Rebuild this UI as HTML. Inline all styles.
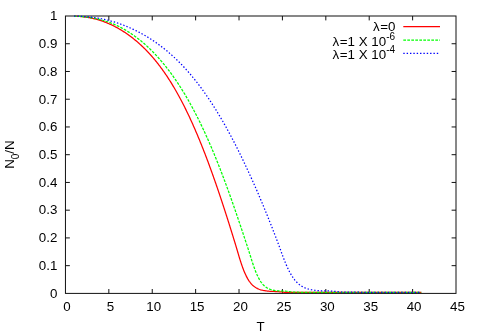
<!DOCTYPE html>
<html><head><meta charset="utf-8"><title>N0/N vs T</title>
<style>html,body{margin:0;padding:0;background:#fff;}body{width:480px;height:336px;overflow:hidden;}svg{display:block;will-change:transform;}text{font-family:"Liberation Sans",sans-serif;fill:#000;}</style></head><body>
<svg width="480" height="336" viewBox="0 0 480 336">
<rect width="480" height="336" fill="#fff"/>
<g stroke="#111" stroke-width="1" fill="none">
<rect x="65.45" y="16.0" width="390.55" height="277.40"/>
<path d="M108.84,293.4v-4.4M108.84,16.0v4.4M152.24,293.4v-4.4M152.24,16.0v4.4M195.63,293.4v-4.4M195.63,16.0v4.4M239.03,293.4v-4.4M239.03,16.0v4.4M282.42,293.4v-4.4M282.42,16.0v4.4M325.82,293.4v-4.4M325.82,16.0v4.4M369.21,293.4v-4.4M369.21,16.0v4.4M412.61,293.4v-4.4M412.61,16.0v4.4M65.45,265.66h4.4M456.0,265.66h-4.4M65.45,237.92h4.4M456.0,237.92h-4.4M65.45,210.18h4.4M456.0,210.18h-4.4M65.45,182.44h4.4M456.0,182.44h-4.4M65.45,154.70h4.4M456.0,154.70h-4.4M65.45,126.96h4.4M456.0,126.96h-4.4M65.45,99.22h4.4M456.0,99.22h-4.4M65.45,71.48h4.4M456.0,71.48h-4.4M65.45,43.74h4.4M456.0,43.74h-4.4"/>
</g>
<path d="M74.10,16.18 L74.95,16.21 L75.81,16.24 L76.66,16.28 L77.52,16.32 L78.37,16.37 L79.22,16.43 L80.08,16.50 L80.93,16.57 L81.78,16.64 L82.63,16.73 L83.48,16.82 L84.33,16.93 L85.18,17.04 L86.03,17.15 L86.87,17.28 L87.72,17.41 L88.56,17.55 L89.40,17.70 L90.24,17.86 L91.08,18.03 L91.92,18.20 L92.75,18.39 L93.59,18.58 L94.42,18.78 L95.25,18.99 L96.07,19.20 L96.90,19.43 L97.72,19.66 L98.54,19.90 L99.36,20.15 L100.17,20.41 L100.99,20.67 L101.80,20.95 L102.61,21.23 L103.41,21.52 L104.21,21.81 L105.01,22.11 L105.81,22.43 L106.60,22.74 L107.39,23.07 L108.18,23.40 L108.97,23.74 L109.75,24.09 L110.53,24.44 L111.30,24.80 L112.08,25.16 L112.85,25.54 L113.61,25.92 L114.38,26.30 L115.14,26.69 L115.89,27.09 L116.65,27.50 L117.40,27.91 L118.14,28.32 L118.89,28.75 L119.63,29.18 L120.36,29.61 L121.10,30.05 L121.83,30.50 L122.55,30.95 L123.28,31.40 L123.99,31.87 L124.71,32.33 L125.42,32.81 L126.13,33.28 L126.84,33.77 L127.54,34.26 L128.24,34.75 L128.93,35.25 L129.62,35.75 L130.31,36.26 L131.00,36.77 L131.68,37.29 L132.35,37.81 L133.03,38.34 L133.70,38.87 L134.36,39.41 L135.03,39.95 L135.69,40.49 L136.34,41.04 L136.99,41.59 L137.64,42.15 L138.29,42.71 L138.93,43.28 L139.56,43.85 L140.20,44.42 L140.83,45.00 L141.45,45.58 L142.08,46.17 L142.70,46.76 L143.31,47.35 L143.92,47.95 L144.53,48.55 L145.14,49.15 L145.74,49.76 L146.34,50.37 L146.93,50.99 L147.52,51.61 L148.11,52.23 L148.69,52.85 L149.27,53.48 L149.85,54.11 L150.43,54.75 L151.00,55.38 L151.56,56.02 L152.13,56.67 L152.69,57.31 L153.24,57.96 L153.79,58.61 L154.34,59.27 L154.89,59.93 L155.43,60.59 L155.97,61.25 L156.51,61.92 L157.05,62.58 L157.58,63.25 L158.10,63.93 L158.63,64.60 L159.15,65.28 L159.67,65.96 L160.18,66.64 L160.69,67.33 L161.20,68.02 L161.71,68.71 L162.21,69.40 L162.71,70.09 L163.21,70.79 L163.70,71.49 L164.19,72.19 L164.68,72.89 L165.17,73.59 L165.65,74.30 L166.13,75.01 L166.61,75.71 L167.08,76.43 L167.55,77.14 L168.02,77.85 L168.49,78.57 L168.95,79.29 L169.41,80.01 L169.87,80.73 L170.33,81.45 L170.78,82.18 L171.23,82.91 L171.68,83.63 L172.13,84.36 L172.57,85.09 L173.01,85.83 L173.45,86.56 L173.89,87.30 L174.32,88.03 L174.75,88.77 L175.18,89.51 L175.61,90.25 L176.04,90.99 L176.46,91.73 L176.88,92.48 L177.30,93.22 L177.72,93.97 L178.13,94.72 L178.55,95.47 L178.96,96.22 L179.36,96.97 L179.77,97.72 L180.18,98.47 L180.58,99.23 L180.98,99.98 L181.38,100.74 L181.77,101.50 L182.17,102.26 L182.56,103.02 L182.95,103.78 L183.34,104.54 L183.73,105.30 L184.12,106.06 L184.50,106.83 L184.88,107.59 L185.26,108.36 L185.64,109.12 L186.02,109.89 L186.40,110.66 L186.77,111.43 L187.14,112.20 L187.51,112.97 L187.88,113.74 L188.25,114.51 L188.62,115.28 L188.98,116.06 L189.35,116.83 L189.71,117.61 L190.07,118.38 L190.43,119.16 L190.78,119.94 L191.14,120.71 L191.49,121.49 L191.85,122.27 L192.20,123.05 L192.55,123.83 L192.90,124.61 L193.24,125.39 L193.59,126.17 L193.94,126.96 L194.28,127.74 L194.62,128.52 L194.96,129.31 L195.30,130.09 L195.64,130.88 L195.98,131.66 L196.31,132.45 L196.65,133.24 L196.98,134.02 L197.31,134.81 L197.65,135.60 L197.98,136.39 L198.31,137.18 L198.63,137.97 L198.96,138.76 L199.29,139.55 L199.61,140.34 L199.93,141.13 L200.26,141.92 L200.58,142.71 L200.90,143.51 L201.22,144.30 L201.54,145.09 L201.85,145.89 L202.17,146.68 L202.49,147.48 L202.80,148.27 L203.11,149.07 L203.43,149.86 L203.74,150.66 L204.05,151.46 L204.36,152.25 L204.67,153.05 L204.98,153.85 L205.28,154.65 L205.59,155.45 L205.89,156.24 L206.20,157.04 L206.50,157.84 L206.81,158.64 L207.11,159.44 L207.41,160.24 L207.71,161.04 L208.01,161.84 L208.31,162.65 L208.60,163.45 L208.90,164.25 L209.20,165.05 L209.49,165.85 L209.79,166.66 L210.08,167.46 L210.38,168.26 L210.67,169.07 L210.96,169.87 L211.25,170.67 L211.54,171.48 L211.83,172.28 L212.12,173.09 L212.41,173.89 L212.70,174.70 L212.98,175.50 L213.27,176.31 L213.55,177.12 L213.84,177.92 L214.12,178.73 L214.41,179.53 L214.69,180.34 L214.97,181.15 L215.25,181.96 L215.54,182.76 L215.82,183.57 L216.10,184.38 L216.38,185.19 L216.65,186.00 L216.93,186.80 L217.21,187.61 L217.49,188.42 L217.76,189.23 L218.04,190.04 L218.32,190.85 L218.59,191.66 L218.86,192.47 L219.14,193.28 L219.41,194.09 L219.68,194.90 L219.96,195.71 L220.23,196.52 L220.50,197.33 L220.77,198.14 L221.04,198.96 L221.31,199.77 L221.58,200.58 L221.85,201.39 L222.12,202.20 L222.38,203.02 L222.65,203.83 L222.92,204.64 L223.18,205.45 L223.45,206.27 L223.71,207.08 L223.98,207.89 L224.24,208.70 L224.51,209.52 L224.77,210.33 L225.04,211.14 L225.30,211.96 L225.56,212.77 L225.82,213.59 L226.08,214.40 L226.35,215.21 L226.61,216.03 L226.87,216.84 L227.13,217.66 L227.39,218.47 L227.65,219.29 L227.90,220.10 L228.16,220.92 L228.42,221.73 L228.68,222.55 L228.94,223.36 L229.19,224.18 L229.45,224.99 L229.71,225.81 L229.96,226.63 L230.22,227.44 L230.47,228.26 L230.73,229.07 L230.98,229.89 L231.24,230.71 L231.49,231.52 L231.75,232.34 L232.00,233.16 L232.25,233.97 L232.50,234.79 L232.76,235.61 L233.01,236.42 L233.26,237.24 L233.51,238.06 L233.76,238.88 L234.02,239.69 L234.27,240.51 L234.52,241.33 L234.77,242.15 L235.02,242.96 L235.27,243.78 L235.52,244.60 L235.77,245.42 L236.01,246.24 L236.26,247.06 L236.50,247.88 L236.75,248.70 L236.99,249.52 L237.23,250.34 L237.47,251.16 L237.71,251.98 L237.95,252.80 L238.19,253.62 L238.43,254.44 L238.67,255.26 L238.92,256.08 L239.16,256.90 L239.41,257.72 L239.66,258.53 L239.91,259.35 L240.17,260.17 L240.43,260.98 L240.69,261.80 L240.96,262.61 L241.23,263.42 L241.50,264.23 L241.78,265.04 L242.06,265.85 L242.34,266.65 L242.64,267.46 L242.93,268.26 L243.23,269.06 L243.54,269.86 L243.86,270.65 L244.18,271.44 L244.51,272.23 L244.85,273.02 L245.19,273.80 L245.55,274.58 L245.91,275.35 L246.29,276.12 L246.68,276.88 L247.08,277.64 L247.49,278.38 L247.92,279.12 L248.37,279.85 L248.83,280.57 L249.31,281.28 L249.81,281.98 L250.32,282.66 L250.86,283.32 L251.43,283.96 L252.01,284.59 L252.62,285.19 L253.25,285.76 L253.91,286.31 L254.59,286.83 L255.30,287.31 L256.02,287.76 L256.77,288.18 L257.53,288.57 L258.31,288.92 L259.10,289.24 L259.91,289.53 L260.72,289.79 L261.54,290.02 L262.37,290.23 L263.21,290.41 L264.05,290.57 L264.89,290.71 L265.74,290.84 L266.59,290.95 L267.44,291.04 L268.29,291.12 L269.14,291.20 L269.99,291.26 L270.85,291.32 L271.70,291.37 L272.55,291.41 L273.41,291.45 L274.26,291.49 L275.12,291.53 L275.97,291.57 L276.82,291.61 L277.68,291.66 L278.53,291.71 L279.38,291.77 L280.24,291.83 L281.09,291.91 L281.94,291.99 L282.79,292.09 L283.64,292.19 L284.49,292.30 L285.34,292.37 L286.19,292.37 L287.05,292.37 L287.90,292.37 L288.76,292.37 L289.61,292.37 L290.47,292.37 L291.32,292.37 L292.18,292.37 L293.03,292.37 L293.89,292.37 L294.74,292.37 L295.60,292.37 L296.45,292.37 L297.31,292.37 L298.16,292.37 L299.02,292.37 L299.87,292.37 L300.73,292.37 L301.58,292.37 L302.44,292.37 L303.29,292.37 L304.15,292.37 L305.00,292.37 L305.86,292.37 L306.72,292.37 L307.57,292.37 L308.43,292.37 L309.28,292.37 L310.14,292.37 L310.99,292.37 L311.85,292.38 L312.70,292.38 L313.56,292.38 L314.41,292.38 L315.27,292.38 L316.12,292.38 L316.98,292.38 L317.83,292.38 L318.69,292.39 L319.54,292.39 L320.40,292.39 L321.25,292.39 L322.11,292.39 L322.96,292.39 L323.82,292.39 L324.67,292.39 L325.53,292.40 L326.38,292.40 L327.24,292.40 L328.09,292.40 L328.95,292.40 L329.80,292.40 L330.66,292.40 L331.51,292.40 L332.37,292.40 L333.22,292.40 L334.08,292.40 L334.93,292.40 L335.79,292.40 L336.64,292.41 L337.50,292.41 L338.35,292.41 L339.21,292.41 L340.06,292.41 L340.92,292.41 L341.77,292.41 L342.63,292.41 L343.48,292.41 L344.34,292.41 L345.20,292.41 L346.05,292.41 L346.91,292.41 L347.76,292.41 L348.62,292.41 L349.47,292.41 L350.33,292.42 L351.18,292.42 L352.04,292.42 L352.89,292.42 L353.75,292.42 L354.60,292.42 L355.46,292.42 L356.31,292.42 L357.17,292.42 L358.02,292.42 L358.88,292.42 L359.73,292.42 L360.59,292.42 L361.44,292.42 L362.30,292.42 L363.15,292.42 L364.01,292.42 L364.86,292.43 L365.72,292.43 L366.57,292.43 L367.43,292.43 L368.28,292.43 L369.14,292.43 L369.99,292.43 L370.85,292.43 L371.70,292.43 L372.56,292.43 L373.41,292.43 L374.27,292.43 L375.12,292.43 L375.98,292.43 L376.83,292.43 L377.69,292.43 L378.54,292.43 L379.40,292.43 L380.25,292.43 L381.11,292.44 L381.96,292.44 L382.82,292.44 L383.68,292.44 L384.53,292.44 L385.39,292.44 L386.24,292.44 L387.10,292.44 L387.95,292.44 L388.81,292.44 L389.66,292.44 L390.52,292.44 L391.37,292.44 L392.23,292.44 L393.08,292.44 L393.94,292.44 L394.79,292.44 L395.65,292.44 L396.50,292.44 L397.36,292.44 L398.21,292.44 L399.07,292.44 L399.92,292.44 L400.78,292.44 L401.63,292.44 L402.49,292.45 L403.34,292.45 L404.20,292.45 L405.05,292.45 L405.91,292.45 L406.76,292.45 L407.62,292.45 L408.47,292.45 L409.33,292.45 L410.18,292.45 L411.04,292.45 L411.89,292.45 L412.75,292.45 L413.60,292.45 L414.46,292.45 L415.31,292.45 L416.17,292.45 L417.02,292.45 L417.88,292.45 L418.73,292.45 L419.59,292.45 L420.44,292.45 L421.30,292.45" fill="none" stroke="#ff0000" stroke-width="1.25" stroke-linejoin="round"/>
<path d="M74.10,16.21 L74.95,16.24 L75.80,16.27 L76.65,16.30 L77.49,16.34 L78.34,16.39 L79.19,16.44 L80.04,16.49 L80.88,16.55 L81.73,16.61 L82.58,16.68 L83.42,16.76 L84.27,16.84 L85.11,16.92 L85.96,17.01 L86.80,17.11 L87.64,17.21 L88.48,17.33 L89.32,17.44 L90.16,17.56 L91.00,17.69 L91.84,17.83 L92.68,17.97 L93.51,18.12 L94.35,18.28 L95.18,18.45 L96.01,18.62 L96.84,18.79 L97.67,18.98 L98.50,19.17 L99.32,19.37 L100.15,19.58 L100.97,19.79 L101.79,20.01 L102.60,20.24 L103.42,20.48 L104.23,20.72 L105.05,20.97 L105.85,21.23 L106.66,21.49 L107.46,21.77 L108.27,22.05 L109.07,22.33 L109.86,22.63 L110.66,22.93 L111.45,23.23 L112.24,23.55 L113.02,23.87 L113.80,24.20 L114.58,24.53 L115.36,24.88 L116.14,25.22 L116.91,25.58 L117.68,25.94 L118.44,26.31 L119.20,26.68 L119.96,27.07 L120.72,27.45 L121.47,27.85 L122.22,28.25 L122.96,28.65 L123.71,29.06 L124.44,29.48 L125.18,29.91 L125.91,30.33 L126.64,30.77 L127.37,31.21 L128.09,31.66 L128.81,32.11 L129.52,32.57 L130.24,33.03 L130.94,33.50 L131.65,33.97 L132.35,34.45 L133.05,34.93 L133.74,35.42 L134.44,35.91 L135.12,36.41 L135.81,36.91 L136.49,37.42 L137.17,37.93 L137.84,38.44 L138.51,38.96 L139.18,39.49 L139.84,40.02 L140.50,40.55 L141.16,41.09 L141.82,41.63 L142.47,42.17 L143.11,42.72 L143.76,43.28 L144.40,43.83 L145.03,44.40 L145.67,44.96 L146.30,45.53 L146.93,46.10 L147.55,46.68 L148.17,47.25 L148.79,47.84 L149.40,48.42 L150.02,49.01 L150.62,49.60 L151.23,50.20 L151.83,50.80 L152.43,51.40 L153.02,52.01 L153.62,52.61 L154.21,53.23 L154.79,53.84 L155.38,54.46 L155.96,55.08 L156.53,55.70 L157.11,56.32 L157.68,56.95 L158.25,57.58 L158.81,58.22 L159.37,58.85 L159.93,59.49 L160.49,60.13 L161.04,60.78 L161.60,61.42 L162.14,62.07 L162.69,62.72 L163.23,63.37 L163.77,64.03 L164.31,64.69 L164.84,65.35 L165.37,66.01 L165.90,66.67 L166.43,67.34 L166.95,68.01 L167.47,68.68 L167.99,69.35 L168.51,70.02 L169.02,70.70 L169.53,71.38 L170.04,72.06 L170.54,72.74 L171.05,73.43 L171.55,74.11 L172.05,74.80 L172.54,75.49 L173.03,76.18 L173.52,76.87 L174.01,77.57 L174.50,78.26 L174.98,78.96 L175.46,79.66 L175.94,80.36 L176.42,81.06 L176.89,81.77 L177.37,82.47 L177.83,83.18 L178.30,83.89 L178.77,84.60 L179.23,85.31 L179.69,86.02 L180.15,86.74 L180.61,87.45 L181.06,88.17 L181.51,88.89 L181.96,89.61 L182.41,90.33 L182.86,91.05 L183.30,91.78 L183.74,92.50 L184.18,93.23 L184.62,93.95 L185.06,94.68 L185.49,95.41 L185.92,96.14 L186.35,96.88 L186.78,97.61 L187.21,98.34 L187.63,99.08 L188.06,99.81 L188.48,100.55 L188.90,101.29 L189.31,102.03 L189.73,102.77 L190.14,103.51 L190.55,104.25 L190.96,105.00 L191.37,105.74 L191.78,106.49 L192.18,107.23 L192.59,107.98 L192.99,108.73 L193.39,109.48 L193.79,110.23 L194.18,110.98 L194.58,111.73 L194.97,112.48 L195.36,113.23 L195.75,113.99 L196.14,114.74 L196.53,115.50 L196.91,116.26 L197.30,117.01 L197.68,117.77 L198.06,118.53 L198.44,119.29 L198.82,120.05 L199.19,120.81 L199.57,121.57 L199.94,122.33 L200.31,123.10 L200.69,123.86 L201.06,124.63 L201.42,125.39 L201.79,126.16 L202.15,126.92 L202.52,127.69 L202.88,128.46 L203.24,129.23 L203.60,129.99 L203.96,130.76 L204.32,131.53 L204.67,132.31 L205.03,133.08 L205.38,133.85 L205.74,134.62 L206.09,135.39 L206.44,136.17 L206.78,136.94 L207.13,137.72 L207.48,138.49 L207.82,139.27 L208.17,140.04 L208.51,140.82 L208.85,141.60 L209.19,142.37 L209.53,143.15 L209.87,143.93 L210.21,144.71 L210.54,145.49 L210.88,146.27 L211.21,147.05 L211.55,147.83 L211.88,148.61 L212.21,149.39 L212.54,150.18 L212.87,150.96 L213.20,151.74 L213.52,152.53 L213.85,153.31 L214.17,154.09 L214.50,154.88 L214.82,155.66 L215.14,156.45 L215.46,157.24 L215.78,158.02 L216.10,158.81 L216.42,159.60 L216.74,160.38 L217.05,161.17 L217.37,161.96 L217.68,162.75 L218.00,163.54 L218.31,164.33 L218.62,165.12 L218.94,165.91 L219.25,166.70 L219.56,167.49 L219.86,168.28 L220.17,169.07 L220.48,169.86 L220.79,170.65 L221.09,171.44 L221.40,172.24 L221.70,173.03 L222.00,173.82 L222.31,174.61 L222.61,175.41 L222.91,176.20 L223.21,177.00 L223.51,177.79 L223.81,178.58 L224.11,179.38 L224.41,180.17 L224.70,180.97 L225.00,181.77 L225.29,182.56 L225.59,183.36 L225.88,184.15 L226.18,184.95 L226.47,185.75 L226.76,186.54 L227.05,187.34 L227.35,188.14 L227.64,188.94 L227.93,189.73 L228.22,190.53 L228.51,191.33 L228.79,192.13 L229.08,192.93 L229.37,193.73 L229.65,194.53 L229.94,195.33 L230.23,196.12 L230.51,196.92 L230.80,197.72 L231.08,198.52 L231.36,199.32 L231.65,200.13 L231.93,200.93 L232.21,201.73 L232.49,202.53 L232.77,203.33 L233.05,204.13 L233.33,204.93 L233.61,205.73 L233.89,206.54 L234.17,207.34 L234.45,208.14 L234.73,208.94 L235.00,209.74 L235.28,210.55 L235.56,211.35 L235.83,212.15 L236.11,212.95 L236.39,213.76 L236.66,214.56 L236.93,215.36 L237.21,216.17 L237.48,216.97 L237.76,217.77 L238.03,218.58 L238.30,219.38 L238.58,220.19 L238.85,220.99 L239.12,221.79 L239.39,222.60 L239.66,223.40 L239.93,224.21 L240.20,225.01 L240.48,225.82 L240.75,226.62 L241.02,227.43 L241.29,228.23 L241.55,229.04 L241.82,229.84 L242.09,230.65 L242.36,231.45 L242.63,232.26 L242.90,233.06 L243.17,233.87 L243.43,234.68 L243.70,235.48 L243.97,236.29 L244.24,237.09 L244.50,237.90 L244.77,238.70 L245.04,239.51 L245.31,240.32 L245.58,241.12 L245.84,241.93 L246.11,242.73 L246.38,243.54 L246.65,244.34 L246.92,245.15 L247.19,245.95 L247.45,246.76 L247.72,247.57 L247.98,248.37 L248.24,249.18 L248.50,249.99 L248.76,250.80 L249.02,251.61 L249.27,252.42 L249.53,253.23 L249.78,254.04 L250.03,254.85 L250.29,255.66 L250.54,256.47 L250.79,257.28 L251.04,258.09 L251.29,258.90 L251.55,259.71 L251.81,260.52 L252.06,261.33 L252.33,262.14 L252.59,262.94 L252.86,263.75 L253.13,264.55 L253.40,265.36 L253.68,266.16 L253.96,266.96 L254.25,267.76 L254.54,268.56 L254.83,269.35 L255.13,270.15 L255.44,270.94 L255.75,271.73 L256.07,272.52 L256.40,273.30 L256.73,274.08 L257.07,274.86 L257.43,275.63 L257.79,276.40 L258.16,277.16 L258.55,277.91 L258.95,278.66 L259.36,279.40 L259.79,280.14 L260.24,280.86 L260.70,281.57 L261.18,282.27 L261.69,282.95 L262.21,283.62 L262.76,284.27 L263.34,284.89 L263.94,285.49 L264.56,286.06 L265.22,286.61 L265.89,287.12 L266.60,287.60 L267.32,288.04 L268.07,288.44 L268.84,288.80 L269.62,289.13 L270.41,289.43 L271.22,289.69 L272.04,289.91 L272.87,290.11 L273.70,290.29 L274.53,290.43 L275.37,290.56 L276.22,290.66 L277.06,290.75 L277.91,290.83 L278.75,290.89 L279.60,290.94 L280.45,290.98 L281.30,291.02 L282.14,291.05 L282.99,291.08 L283.84,291.11 L284.69,291.15 L285.54,291.20 L286.38,291.25 L287.23,291.32 L288.07,291.41 L288.92,291.51 L289.76,291.63 L290.59,291.77 L291.43,291.93 L292.26,292.10 L293.11,292.16 L293.95,292.18 L294.80,292.20 L295.65,292.21 L296.50,292.22 L297.35,292.23 L298.20,292.24 L299.05,292.25 L299.90,292.25 L300.75,292.26 L301.59,292.27 L302.44,292.27 L303.29,292.27 L304.14,292.28 L304.99,292.28 L305.84,292.28 L306.69,292.29 L307.54,292.29 L308.39,292.29 L309.23,292.30 L310.08,292.30 L310.93,292.30 L311.78,292.31 L312.63,292.31 L313.48,292.32 L314.33,292.32 L315.18,292.33 L316.03,292.33 L316.88,292.33 L317.72,292.34 L318.57,292.34 L319.42,292.34 L320.27,292.35 L321.12,292.35 L321.97,292.35 L322.82,292.36 L323.67,292.36 L324.52,292.36 L325.37,292.37 L326.21,292.37 L327.06,292.37 L327.91,292.37 L328.76,292.38 L329.61,292.38 L330.46,292.38 L331.31,292.38 L332.16,292.39 L333.01,292.39 L333.86,292.39 L334.70,292.39 L335.55,292.39 L336.40,292.39 L337.25,292.40 L338.10,292.40 L338.95,292.40 L339.80,292.40 L340.65,292.40 L341.50,292.40 L342.34,292.40 L343.19,292.40 L344.04,292.40 L344.89,292.41 L345.74,292.41 L346.59,292.41 L347.44,292.41 L348.29,292.41 L349.14,292.41 L349.99,292.41 L350.83,292.41 L351.68,292.41 L352.53,292.41 L353.38,292.41 L354.23,292.42 L355.08,292.42 L355.93,292.42 L356.78,292.42 L357.63,292.42 L358.48,292.42 L359.32,292.42 L360.17,292.42 L361.02,292.42 L361.87,292.42 L362.72,292.42 L363.57,292.42 L364.42,292.42 L365.27,292.43 L366.12,292.43 L366.97,292.43 L367.81,292.43 L368.66,292.43 L369.51,292.43 L370.36,292.43 L371.21,292.43 L372.06,292.43 L372.91,292.43 L373.76,292.43 L374.61,292.43 L375.46,292.43 L376.30,292.43 L377.15,292.43 L378.00,292.44 L378.85,292.44 L379.70,292.44 L380.55,292.44 L381.40,292.44 L382.25,292.44 L383.10,292.44 L383.94,292.44 L384.79,292.44 L385.64,292.44 L386.49,292.44 L387.34,292.44 L388.19,292.44 L389.04,292.44 L389.89,292.44 L390.74,292.44 L391.59,292.44 L392.43,292.44 L393.28,292.44 L394.13,292.44 L394.98,292.44 L395.83,292.44 L396.68,292.45 L397.53,292.45 L398.38,292.45 L399.23,292.45 L400.08,292.45 L400.92,292.45 L401.77,292.45 L402.62,292.45 L403.47,292.45 L404.32,292.45 L405.17,292.45 L406.02,292.45 L406.87,292.45 L407.72,292.45 L408.57,292.45 L409.41,292.45 L410.26,292.45 L411.11,292.45 L411.96,292.45 L412.81,292.45 L413.66,292.45 L414.51,292.45 L415.36,292.45 L416.21,292.45 L417.06,292.45 L417.90,292.45 L418.75,292.45 L419.60,292.45 L420.45,292.45 L421.30,292.45" fill="none" stroke="#00ff00" stroke-width="1.25" stroke-dasharray="2.7 1.3" stroke-linejoin="round"/>
<path d="M74.10,16.14 L74.93,16.15 L75.76,16.16 L76.58,16.18 L77.41,16.21 L78.24,16.23 L79.07,16.26 L79.89,16.29 L80.72,16.33 L81.55,16.37 L82.37,16.41 L83.20,16.46 L84.02,16.51 L84.85,16.57 L85.68,16.63 L86.50,16.70 L87.33,16.77 L88.15,16.85 L88.97,16.93 L89.80,17.01 L90.62,17.10 L91.44,17.20 L92.26,17.30 L93.09,17.40 L93.91,17.51 L94.73,17.63 L95.54,17.75 L96.36,17.88 L97.18,18.01 L98.00,18.14 L98.81,18.29 L99.63,18.43 L100.44,18.58 L101.25,18.74 L102.06,18.90 L102.88,19.07 L103.68,19.24 L104.49,19.42 L105.30,19.61 L106.11,19.79 L106.91,19.99 L107.72,20.19 L108.52,20.39 L109.32,20.60 L110.12,20.81 L110.92,21.03 L111.71,21.25 L112.51,21.48 L113.30,21.72 L114.10,21.95 L114.89,22.20 L115.68,22.44 L116.47,22.70 L117.25,22.95 L118.04,23.22 L118.82,23.48 L119.60,23.76 L120.38,24.03 L121.16,24.31 L121.94,24.60 L122.71,24.89 L123.49,25.18 L124.26,25.48 L125.03,25.79 L125.80,26.09 L126.56,26.41 L127.33,26.72 L128.09,27.04 L128.85,27.37 L129.61,27.70 L130.37,28.03 L131.13,28.37 L131.88,28.71 L132.63,29.06 L133.38,29.41 L134.13,29.77 L134.87,30.13 L135.62,30.49 L136.36,30.86 L137.10,31.23 L137.84,31.61 L138.57,31.99 L139.30,32.37 L140.04,32.76 L140.77,33.15 L141.49,33.55 L142.22,33.95 L142.94,34.35 L143.66,34.76 L144.38,35.17 L145.09,35.58 L145.81,36.00 L146.52,36.43 L147.23,36.85 L147.94,37.28 L148.64,37.72 L149.34,38.16 L150.04,38.60 L150.74,39.04 L151.44,39.49 L152.13,39.95 L152.82,40.40 L153.51,40.86 L154.19,41.33 L154.88,41.79 L155.56,42.26 L156.24,42.74 L156.91,43.22 L157.59,43.70 L158.26,44.18 L158.93,44.67 L159.59,45.16 L160.25,45.66 L160.92,46.15 L161.57,46.66 L162.23,47.16 L162.88,47.67 L163.53,48.18 L164.18,48.69 L164.83,49.21 L165.47,49.73 L166.11,50.26 L166.75,50.78 L167.39,51.32 L168.02,51.85 L168.65,52.38 L169.28,52.92 L169.90,53.47 L170.53,54.01 L171.15,54.56 L171.76,55.11 L172.38,55.67 L172.99,56.22 L173.60,56.78 L174.21,57.34 L174.81,57.91 L175.42,58.48 L176.02,59.05 L176.61,59.62 L177.21,60.20 L177.80,60.78 L178.39,61.36 L178.98,61.94 L179.56,62.53 L180.14,63.12 L180.72,63.71 L181.30,64.30 L181.87,64.90 L182.44,65.50 L183.01,66.10 L183.58,66.70 L184.15,67.30 L184.71,67.91 L185.27,68.52 L185.83,69.13 L186.38,69.75 L186.93,70.36 L187.48,70.98 L188.03,71.60 L188.58,72.23 L189.12,72.85 L189.66,73.48 L190.20,74.11 L190.73,74.74 L191.27,75.37 L191.80,76.00 L192.33,76.64 L192.86,77.28 L193.38,77.92 L193.90,78.56 L194.42,79.20 L194.94,79.85 L195.46,80.50 L195.97,81.15 L196.48,81.80 L196.99,82.45 L197.50,83.10 L198.01,83.76 L198.51,84.42 L199.01,85.07 L199.51,85.73 L200.01,86.40 L200.50,87.06 L201.00,87.73 L201.49,88.39 L201.98,89.06 L202.46,89.73 L202.95,90.40 L203.43,91.07 L203.91,91.74 L204.39,92.42 L204.87,93.10 L205.35,93.77 L205.82,94.45 L206.29,95.13 L206.76,95.81 L207.23,96.50 L207.70,97.18 L208.16,97.86 L208.62,98.55 L209.09,99.24 L209.55,99.93 L210.00,100.62 L210.46,101.31 L210.91,102.00 L211.37,102.69 L211.82,103.39 L212.27,104.08 L212.72,104.78 L213.16,105.47 L213.61,106.17 L214.05,106.87 L214.49,107.57 L214.93,108.27 L215.37,108.98 L215.81,109.68 L216.24,110.38 L216.67,111.09 L217.11,111.79 L217.54,112.50 L217.97,113.21 L218.40,113.92 L218.82,114.63 L219.25,115.34 L219.67,116.05 L220.09,116.76 L220.51,117.47 L220.93,118.19 L221.35,118.90 L221.77,119.62 L222.18,120.33 L222.60,121.05 L223.01,121.77 L223.42,122.48 L223.83,123.20 L224.24,123.92 L224.65,124.64 L225.05,125.36 L225.46,126.09 L225.86,126.81 L226.27,127.53 L226.67,128.26 L227.07,128.98 L227.47,129.71 L227.86,130.43 L228.26,131.16 L228.66,131.89 L229.05,132.61 L229.44,133.34 L229.84,134.07 L230.23,134.80 L230.62,135.53 L231.01,136.26 L231.39,136.99 L231.78,137.73 L232.17,138.46 L232.55,139.19 L232.93,139.92 L233.32,140.66 L233.70,141.39 L234.08,142.13 L234.46,142.86 L234.83,143.60 L235.21,144.34 L235.59,145.07 L235.96,145.81 L236.34,146.55 L236.71,147.29 L237.08,148.03 L237.45,148.77 L237.83,149.51 L238.20,150.25 L238.56,150.99 L238.93,151.73 L239.30,152.47 L239.66,153.22 L240.03,153.96 L240.39,154.70 L240.76,155.45 L241.12,156.19 L241.48,156.94 L241.84,157.68 L242.20,158.43 L242.56,159.17 L242.92,159.92 L243.28,160.67 L243.63,161.41 L243.99,162.16 L244.34,162.91 L244.70,163.66 L245.05,164.40 L245.40,165.15 L245.75,165.90 L246.11,166.65 L246.46,167.40 L246.81,168.15 L247.15,168.90 L247.50,169.66 L247.85,170.41 L248.20,171.16 L248.54,171.91 L248.89,172.66 L249.23,173.42 L249.57,174.17 L249.92,174.92 L250.26,175.68 L250.60,176.43 L250.94,177.18 L251.28,177.94 L251.62,178.69 L251.96,179.45 L252.30,180.21 L252.63,180.96 L252.97,181.72 L253.31,182.47 L253.64,183.23 L253.97,183.99 L254.31,184.75 L254.64,185.50 L254.97,186.26 L255.31,187.02 L255.64,187.78 L255.97,188.54 L256.30,189.30 L256.63,190.06 L256.96,190.82 L257.28,191.58 L257.61,192.34 L257.94,193.10 L258.27,193.86 L258.59,194.62 L258.92,195.38 L259.24,196.14 L259.56,196.90 L259.89,197.67 L260.21,198.43 L260.53,199.19 L260.85,199.95 L261.18,200.72 L261.50,201.48 L261.82,202.24 L262.13,203.01 L262.45,203.77 L262.77,204.53 L263.09,205.30 L263.41,206.06 L263.72,206.83 L264.04,207.59 L264.35,208.36 L264.67,209.12 L264.98,209.89 L265.30,210.66 L265.61,211.42 L265.92,212.19 L266.23,212.96 L266.55,213.72 L266.86,214.49 L267.17,215.26 L267.48,216.03 L267.79,216.79 L268.09,217.56 L268.40,218.33 L268.71,219.10 L269.02,219.87 L269.32,220.64 L269.63,221.40 L269.94,222.17 L270.24,222.94 L270.55,223.71 L270.85,224.48 L271.15,225.25 L271.46,226.02 L271.76,226.79 L272.06,227.56 L272.36,228.34 L272.66,229.11 L272.96,229.88 L273.26,230.65 L273.56,231.42 L273.86,232.19 L274.16,232.97 L274.46,233.74 L274.76,234.51 L275.05,235.28 L275.35,236.06 L275.65,236.83 L275.94,237.60 L276.24,238.38 L276.53,239.15 L276.82,239.92 L277.12,240.70 L277.41,241.47 L277.70,242.25 L278.00,243.02 L278.29,243.79 L278.58,244.57 L278.86,245.35 L279.15,246.12 L279.44,246.90 L279.72,247.68 L280.00,248.45 L280.29,249.23 L280.57,250.01 L280.85,250.79 L281.13,251.57 L281.42,252.35 L281.70,253.12 L281.98,253.90 L282.27,254.68 L282.55,255.46 L282.84,256.23 L283.13,257.01 L283.43,257.78 L283.72,258.55 L284.02,259.32 L284.33,260.09 L284.63,260.86 L284.94,261.63 L285.26,262.40 L285.57,263.16 L285.89,263.93 L286.22,264.69 L286.55,265.45 L286.88,266.20 L287.22,266.96 L287.56,267.71 L287.91,268.46 L288.27,269.21 L288.63,269.95 L289.00,270.69 L289.38,271.43 L289.76,272.16 L290.16,272.89 L290.56,273.62 L290.97,274.34 L291.39,275.05 L291.82,275.75 L292.26,276.45 L292.72,277.15 L293.18,277.83 L293.66,278.51 L294.16,279.17 L294.66,279.82 L295.19,280.47 L295.72,281.10 L296.28,281.71 L296.85,282.31 L297.44,282.89 L298.04,283.46 L298.66,284.00 L299.30,284.53 L299.96,285.03 L300.63,285.51 L301.32,285.97 L302.03,286.40 L302.75,286.81 L303.48,287.19 L304.23,287.55 L304.99,287.88 L305.76,288.19 L306.53,288.48 L307.32,288.74 L308.11,288.98 L308.91,289.20 L309.71,289.40 L310.52,289.58 L311.33,289.74 L312.15,289.89 L312.96,290.03 L313.78,290.15 L314.60,290.25 L315.43,290.35 L316.25,290.43 L317.07,290.51 L317.90,290.57 L318.72,290.63 L319.55,290.68 L320.38,290.72 L321.20,290.76 L322.03,290.79 L322.86,290.82 L323.69,290.85 L324.51,290.87 L325.34,290.89 L326.17,290.91 L327.00,290.93 L327.82,290.95 L328.65,290.98 L329.48,291.01 L330.31,291.04 L331.13,291.08 L331.96,291.13 L332.78,291.18 L333.61,291.25 L334.43,291.32 L335.26,291.40 L336.08,291.49 L336.90,291.60 L337.72,291.71 L338.54,291.83 L339.36,291.95 L340.18,292.06 L341.01,292.08 L341.83,292.10 L342.66,292.11 L343.49,292.13 L344.32,292.14 L345.14,292.15 L345.97,292.16 L346.80,292.17 L347.63,292.18 L348.46,292.19 L349.28,292.19 L350.11,292.20 L350.94,292.20 L351.77,292.21 L352.59,292.21 L353.42,292.22 L354.25,292.22 L355.08,292.22 L355.91,292.23 L356.73,292.23 L357.56,292.24 L358.39,292.24 L359.22,292.24 L360.04,292.25 L360.87,292.26 L361.70,292.26 L362.53,292.27 L363.36,292.27 L364.18,292.28 L365.01,292.28 L365.84,292.29 L366.67,292.29 L367.49,292.30 L368.32,292.30 L369.15,292.31 L369.98,292.31 L370.81,292.32 L371.63,292.32 L372.46,292.33 L373.29,292.33 L374.12,292.34 L374.94,292.34 L375.77,292.35 L376.60,292.35 L377.43,292.35 L378.26,292.36 L379.08,292.36 L379.91,292.37 L380.74,292.37 L381.57,292.37 L382.39,292.38 L383.22,292.38 L384.05,292.38 L384.88,292.38 L385.71,292.39 L386.53,292.39 L387.36,292.39 L388.19,292.40 L389.02,292.40 L389.84,292.40 L390.67,292.40 L391.50,292.40 L392.33,292.41 L393.16,292.41 L393.98,292.41 L394.81,292.41 L395.64,292.41 L396.47,292.42 L397.29,292.42 L398.12,292.42 L398.95,292.42 L399.78,292.42 L400.61,292.42 L401.43,292.43 L402.26,292.43 L403.09,292.43 L403.92,292.43 L404.74,292.43 L405.57,292.43 L406.40,292.44 L407.23,292.44 L408.06,292.44 L408.88,292.44 L409.71,292.44 L410.54,292.44 L411.37,292.44 L412.19,292.44 L413.02,292.44 L413.85,292.45 L414.68,292.45 L415.51,292.45 L416.33,292.45 L417.16,292.45 L417.99,292.45 L418.82,292.45 L419.64,292.45 L420.47,292.45 L421.30,292.45" fill="none" stroke="#0000ff" stroke-width="1.25" stroke-dasharray="1.4 1.95" stroke-linejoin="round"/>
<g font-size="13.33">
<text x="66.95" y="310.8" text-anchor="middle">0</text>
<text x="110.34" y="310.8" text-anchor="middle">5</text>
<text x="153.74" y="310.8" text-anchor="middle">10</text>
<text x="197.13" y="310.8" text-anchor="middle">15</text>
<text x="240.53" y="310.8" text-anchor="middle">20</text>
<text x="283.92" y="310.8" text-anchor="middle">25</text>
<text x="327.32" y="310.8" text-anchor="middle">30</text>
<text x="370.71" y="310.8" text-anchor="middle">35</text>
<text x="414.11" y="310.8" text-anchor="middle">40</text>
<text x="457.50" y="310.8" text-anchor="middle">45</text>
<text x="57.3" y="297.70" text-anchor="end">0</text>
<text x="57.3" y="269.96" text-anchor="end">0.1</text>
<text x="57.3" y="242.22" text-anchor="end">0.2</text>
<text x="57.3" y="214.48" text-anchor="end">0.3</text>
<text x="57.3" y="186.74" text-anchor="end">0.4</text>
<text x="57.3" y="159.00" text-anchor="end">0.5</text>
<text x="57.3" y="131.26" text-anchor="end">0.6</text>
<text x="57.3" y="103.52" text-anchor="end">0.7</text>
<text x="57.3" y="75.78" text-anchor="end">0.8</text>
<text x="57.3" y="48.04" text-anchor="end">0.9</text>
<text x="57.3" y="20.30" text-anchor="end">1</text>
<text x="260.7" y="330.8" text-anchor="middle">T</text>
<text transform="translate(13.9,154.6) rotate(-90)" text-anchor="middle">N<tspan font-size="10" dy="4.6">0</tspan><tspan dy="-4.6">/N</tspan></text>
<text x="395.5" y="31" text-anchor="end">λ<tspan dx="0.7">=0</tspan></text>
<text x="386.1" y="46" text-anchor="end">λ<tspan dx="0.7">=1 X 10</tspan></text><text x="386.2" y="39.5" font-size="10">-6</text>
<text x="386.1" y="59" text-anchor="end">λ<tspan dx="0.7">=1 X 10</tspan></text><text x="386.2" y="53" font-size="10">-4</text>
</g>
<path d="M403.3,26.7H440" stroke="#ff0000" stroke-width="1.25" fill="none"/>
<path d="M403.3,40.2H440" stroke="#00ff00" stroke-width="1.25" stroke-dasharray="2.7 1.3" fill="none"/>
<path d="M403.3,53.4H438.8" stroke="#0000ff" stroke-width="1.25" stroke-dasharray="1.4 1.95" fill="none"/>
</svg></body></html>
